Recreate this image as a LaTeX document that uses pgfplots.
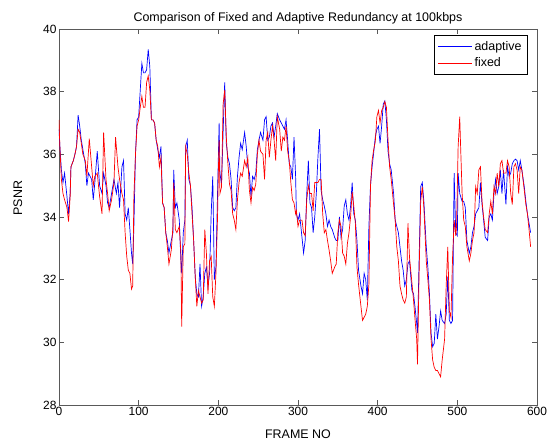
\documentclass[border=0pt]{standalone}
\usepackage{fontspec}
\setmainfont{Liberation Sans}
\usepackage{pgfplots}
\pgfplotsset{compat=1.18}
\begin{document}
\begin{tikzpicture}
\begin{axis}[
  at={(0,0)}, anchor=south west,
  scale only axis, width=478bp, height=376bp,
  xmin=0, xmax=600, ymin=28, ymax=40,
  xtick={0,100,...,600}, ytick={28,30,...,40},
  tick pos=both, tick align=inside,
  major tick length=5bp,
  axis line style={draw=black!65, line width=0.8pt},
  every tick/.style={black!65, line width=0.6pt},
  /pgf/number format/assume math mode=true,
  tick label style={font=\fontsize{12}{14}\selectfont},
  xticklabel style={yshift=1bp},
  yticklabel style={xshift=1bp},
  title={Comparison of Fixed and Adaptive Redundancy at 100kbps},
  title style={font=\fontsize{12.5}{14}\selectfont, yshift=-5bp},
  xlabel={FRAME NO}, ylabel={PSNR},
  label style={font=\fontsize{12.5}{14}\selectfont},
  xlabel style={at={(axis description cs:0.5,0)}, anchor=base, yshift=-33bp},
  ylabel style={at={(axis description cs:-0.0774,0.55)}, anchor=base},
  legend style={at={(0.981,0.984)}, anchor=north east, draw=black, line width=0.6pt,
    font=\fontsize{12.5}{14}\selectfont, inner xsep=4bp, inner ysep=4bp, row sep=2bp},
  legend cell align=left,
  legend image code/.code={\path (-3bp,0bp) -- (31bp,0bp); \draw[#1, line width=0.7pt] (0bp,0bp) -- (25bp,0bp);},
]
\addplot[blue, line width=0.7pt] coordinates {
(0,36.8)(1,36.3)(3,35.5)(5,35.1)(7,35.4)(10,34.65)(12,34.1)(14,34.75)(15,35.6)(18,35.8)
(20,36.0)(22,36.25)(24,37.25)(26,36.9)(28,36.45)(30,36.15)(33,35.7)(35,35.0)(37,35.4)(41,35.2)
(43,34.55)(45,35.1)(48,36.1)(51,35.0)(54,34.75)(56,35.4)(59,35.0)(61,34.45)(63,34.3)(66,34.75)
(69,35.2)(72,34.75)(74,35.1)(76,34.3)(79,35.6)(81,35.8)(83,34.1)(85,33.9)(87,34.3)(89,33.6)
(91,32.85)(92.5,32.5)(94,33.7)(96,36.0)(98,37.1)(100,37.2)(102,38.05)(104,38.9)(106,38.6)(108,38.6)
(110,38.7)(112,39.35)(114,38.8)(116,37.1)(118,37.1)(120,37.0)(122,36.45)(124,36.15)(126,35.9)(128,36.25)
(130,34.45)(132,34.3)(134,33.5)(136,33.25)(138,32.85)(141,33.25)(143,33.5)(144,35.5)(146,34.3)(148,34.45)
(151,33.9)(153,32.6)(154,32.2)(156,33.5)(158,33.9)(159,36.25)(161,36.45)(163,35.2)(165,35.0)(167,34.3)
(169,33.25)(171,32.1)(173,31.55)(175,31.45)(177,32.5)(179,31.15)(181,31.45)(183,32.2)(185,32.4)(187,31.8)
(189,32.2)(191,34.1)(193,35.3)(195,32.0)(197,32.4)(199,34.75)(201,37.0)(202,35.4)(204,35.05)(206,36.7)
(208,38.3)(210,36.35)(212,35.9)(214,35.7)(216,35.2)(218,34.3)(220,34.2)(222,34.3)(224,35.3)(226,35.9)
(228,36.35)(230,36.15)(233,36.7)(235,36.25)(237,35.6)(239,35.4)(241,34.65)(243,35.3)(245,35.2)(247,35.4)
(249,36.15)(251,36.45)(253,36.7)(256,36.45)(258,37.1)(260,37.2)(262,36.45)(264,36.55)(266,36.9)(268,37.0)
(270,36.55)(272,36.9)(274,37.3)(277,37.1)(279,37.0)(281,36.9)(283,36.8)(285,37.1)(287,36.45)(289,35.7)
(291,35.6)(293,35.2)(295,36.55)(297,35.3)(298,34.1)(300,33.9)(302,34.1)(305,33.35)(307,32.85)(309,33.25)
(311,34.75)(313,35.8)(315,34.45)(317,34.3)(319,33.5)(321,34.0)(323,34.75)(325,35.9)(327,36.8)(329,34.85)
(331,34.55)(333,34.35)(335,34.1)(337,33.7)(339,33.9)(341,33.7)(343,33.6)(346,33.35)(348,33.25)(350,33.25)
(352,34.0)(354,33.35)(356,33.6)(358,34.35)(360,34.55)(362,34.1)(364,33.9)(366,34.35)(368,35.1)(370,34.1)
(372,33.9)(374,33.25)(376,32.3)(379,31.8)(381,31.55)(383,32.2)(385,32.0)(387,31.35)(389,33.7)(391,35.0)
(393,35.6)(395,36.05)(397,36.55)(399,36.8)(401,36.9)(403,36.35)(405,36.9)(407,37.6)(409,37.7)(411,37.1)
(413,36.1)(415,35.7)(417,35.5)(420,34.75)(422,33.9)(424,33.7)(426,33.5)(428,33.05)(430,32.6)(432,32.3)
(434,31.8)(436,32.0)(438,32.5)(440,32.6)(443,31.65)(445,31.55)(447,31.1)(449,30.6)(450,30.3)(452,32.6)
(454,34.97)(456,35.1)(458,34.5)(461,33.05)(463,32.4)(465,31.55)(467,30.3)(469,29.86)(471,29.97)(473,30.9)
(475,30.1)(477,30.5)(479,31.0)(481,30.7)(484,30.6)(486,30.9)(488,32.1)(490,30.7)(492,30.6)(494,30.7)
(496,35.4)(498,33.5)(500,33.4)(501,35.4)(503,34.75)(506,34.5)(508,34.5)(510,34.3)(512,33.25)(515,32.84)
(517,33.05)(519,33.5)(521,33.7)(523,34.1)(525,34.2)(527,34.3)(529,35.1)(531,34.4)(533,33.9)(535,33.35)
(538,33.25)(540,34.0)(542,34.1)(544,33.9)(546,34.75)(548,35.2)(550,34.75)(552,34.97)(554,35.5)(556,34.75)
(558,35.5)(561,34.4)(563,35.6)(565,35.3)(567,35.4)(569,35.7)(571,35.8)(573,35.85)(575,35.8)(577,35.5)
(579,35.8)(581,35.5)(584,34.97)(586,34.5)(588,34.1)(590,33.8)(592,33.5)
};
\addlegendentry{adaptive}
\addplot[red, line width=0.7pt] coordinates {
(0,37.1)(1,36.3)(3,35.2)(5,34.75)(7,34.55)(10,34.3)(12,33.85)(14,34.65)(15,35.6)(18,35.8)
(20,36.0)(22,36.25)(24,36.8)(26,36.7)(28,36.35)(30,36.0)(33,35.8)(35,35.3)(38,36.5)(41,35.6)
(43,35.0)(45,35.3)(48,35.4)(51,34.65)(54,34.1)(56,36.7)(59,35.2)(61,34.75)(63,34.2)(66,34.55)
(69,35.1)(71,36.55)(74,35.6)(76,35.2)(79,34.75)(81,34.55)(83,33.5)(85,32.75)(87,32.3)(89,32.2)
(91,31.7)(92.5,31.8)(94,34.65)(96,36.0)(98,36.9)(100,37.1)(102,37.5)(104,37.85)(106,37.5)(108,37.5)
(110,38.3)(112,38.5)(114,38.05)(116,37.1)(118,37.1)(120,37.0)(122,36.45)(124,36.25)(126,35.6)(128,35.9)
(130,34.45)(132,34.3)(134,33.5)(136,33.05)(138,32.5)(141,32.95)(143,33.7)(144,35.1)(146,33.6)(148,33.5)
(151,33.7)(153,32.85)(154,30.5)(156,33.05)(158,33.15)(159,36.25)(161,36.0)(163,35.4)(165,35.0)(167,34.1)
(169,33.25)(171,32.1)(173,31.15)(175,31.65)(177,31.45)(179,31.25)(181,31.35)(183,33.6)(185,32.85)(187,31.55)
(189,32.6)(191,32.75)(193,31.45)(195,31.15)(197,32.2)(199,34.0)(200,35.4)(201,36.45)(202,34.75)(204,34.95)
(206,37.6)(208,38.05)(210,36.55)(212,35.7)(214,35.05)(216,34.85)(218,34.1)(220,33.9)(222,33.6)(224,34.55)
(226,35.1)(228,35.4)(230,35.3)(233,35.8)(235,35.6)(237,35.9)(239,34.85)(241,34.45)(243,34.95)(245,34.85)
(247,35.05)(249,36.0)(251,36.45)(253,36.1)(256,36.0)(258,35.2)(260,36.45)(262,36.7)(264,35.9)(266,36.45)
(268,36.9)(270,36.45)(272,35.8)(274,37.2)(277,36.8)(279,36.1)(281,36.55)(283,36.45)(285,36.9)(287,36.1)
(289,35.8)(291,35.1)(293,34.55)(295,34.45)(297,34.1)(298,34.2)(300,33.7)(302,33.9)(305,33.9)(307,33.5)
(309,33.4)(311,34.55)(313,35.0)(315,34.75)(317,34.75)(319,34.2)(321,35.1)(323,35.1)(325,35.1)(327,35.2)
(329,35.2)(331,34.1)(333,33.5)(335,33.6)(337,33.25)(339,32.95)(341,32.6)(343,32.2)(346,32.4)(348,32.5)
(350,33.5)(352,33.9)(354,33.7)(356,32.85)(358,32.75)(360,32.5)(362,33.15)(364,33.5)(366,34.0)(368,34.8)
(370,34.35)(372,33.8)(374,32.4)(376,31.85)(379,31.15)(381,30.7)(383,30.8)(385,30.9)(387,31.15)(389,31.85)
(391,35.0)(393,35.8)(395,36.15)(397,36.4)(399,37.2)(401,37.4)(403,37.0)(405,37.4)(407,37.5)(409,37.68)
(411,37.5)(413,36.46)(415,35.6)(417,35.2)(420,34.4)(422,33.9)(424,33.05)(426,32.6)(428,31.8)(430,31.55)
(432,31.35)(434,31.25)(436,31.45)(438,33.8)(440,32.7)(443,31.9)(445,31.35)(447,30.7)(449,30.1)(450,29.3)
(452,32.2)(454,34.5)(456,34.97)(458,34.3)(461,32.6)(463,32.0)(465,31.35)(467,30.1)(469,29.44)(471,29.2)
(473,29.1)(475,29.1)(477,29.0)(479,28.9)(481,29.44)(484,30.1)(486,31.8)(488,33.05)(490,31.0)(492,30.8)
(494,32.7)(496,33.9)(498,33.4)(499,33.7)(501,36.24)(503,37.2)(504,36.35)(506,34.75)(508,33.9)(510,33.7)
(512,33.05)(515,32.6)(517,32.84)(519,33.25)(521,33.5)(523,34.97)(525,34.75)(527,35.5)(529,35.6)(531,34.5)
(533,34.0)(535,33.6)(538,33.5)(540,34.1)(542,34.5)(544,34.1)(546,34.97)(548,34.75)(550,35.4)(552,34.97)
(554,35.7)(556,35.8)(558,35.4)(561,35.4)(563,35.8)(565,35.6)(567,34.75)(569,34.4)(571,35.6)(573,35.7)
(575,35.5)(577,34.75)(579,35.6)(581,35.5)(584,34.86)(586,34.4)(588,34.1)(590,33.6)(592,33.05)
};
\addlegendentry{fixed}
\end{axis}
\pgfresetboundingbox
\path (-59bp,-36bp) rectangle (488bp,405bp);
\end{tikzpicture}
\end{document}
